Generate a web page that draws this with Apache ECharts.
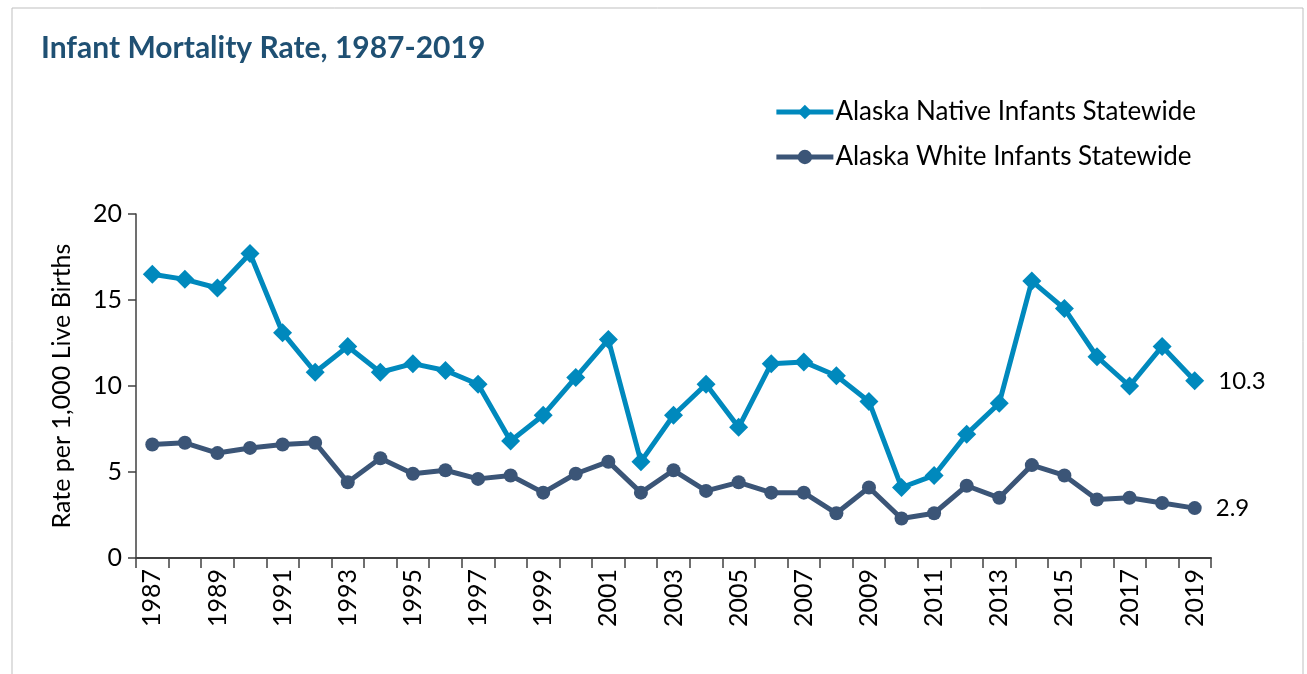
<!DOCTYPE html>
<html><head><meta charset="utf-8">
<script src="https://cdn.jsdelivr.net/npm/echarts@6/dist/echarts.min.js"></script>
<style>html,body{margin:0;padding:0;background:#fff}#c{width:1307px;height:674px}</style>
</head><body><div id="c"></div>
<script>
const years = [1987,1988,1989,1990,1991,1992,1993,1994,1995,1996,1997,1998,1999,2000,2001,2002,2003,2004,2005,2006,2007,2008,2009,2010,2011,2012,2013,2014,2015,2016,2017,2018,2019].map(String);
const nativeRates = [16.5,16.2,15.7,17.7,13.1,10.8,12.3,10.8,11.3,10.9,10.1,6.8,8.3,10.5,12.7,5.6,8.3,10.1,7.6,11.3,11.4,10.6,9.1,4.1,4.8,7.2,9.0,16.1,14.5,11.7,10.0,12.3,10.3];
const whiteRates = [6.6,6.7,6.1,6.4,6.6,6.7,4.4,5.8,4.9,5.1,4.6,4.8,3.8,4.9,5.6,3.8,5.1,3.9,4.4,3.8,3.8,2.6,4.1,2.3,2.6,4.2,3.5,5.4,4.8,3.4,3.5,3.2,2.9];
const yTicks = [0,5,10,15,20];
const seriesNames = ['Alaska Native Infants Statewide','Alaska White Infants Statewide'];
const titleText = 'Infant Mortality Rate, 1987-2019';
const yAxisName = 'Rate per 1,000 Live Births';
const FONT = 'Lato';

function lastLabel(arr){
  return arr.map((v,i)=> i===arr.length-1 ? {value:v,label:{show:true,position:'right',distance:14,formatter:String(v),fontSize:24,color:'#000',fontFamily:FONT}} : v);
}

const chart = echarts.init(document.getElementById('c'));
chart.setOption({
  animation:false,
  graphic:[{type:'rect',shape:{x:12,y:8,width:1291,height:700},style:{fill:'none',stroke:'#bfbfbf',lineWidth:1}}],
  title:{text:titleText,left:36,top:28,textStyle:{fontFamily:FONT,fontWeight:'bold',fontSize:30,color:'#1f5073'}},
  legend:{orient:'vertical',right:106,top:94,itemGap:19,itemWidth:57,itemHeight:18,
    lineStyle:{width:5},
    textStyle:{fontFamily:FONT,fontSize:26,color:'#000',padding:[0,0,0,-3]},
    data:seriesNames},
  grid:{left:136,right:96,top:214,bottom:116,containLabel:false},
  xAxis:{type:'category',data:years,boundaryGap:true,
    axisLine:{lineStyle:{color:'#404040',width:2}},
    axisTick:{show:true,alignWithLabel:false,interval:0,length:10,lineStyle:{color:'#404040',width:1.5}},
    axisLabel:{interval:1,rotate:90,fontFamily:FONT,fontSize:25,color:'#000',margin:11}},
  yAxis:{type:'value',min:0,max:20,interval:5,
    name:yAxisName,nameLocation:'middle',nameGap:62,nameRotate:90,
    nameTextStyle:{fontFamily:FONT,fontSize:25,color:'#000'},
    axisLine:{show:true,lineStyle:{color:'#404040',width:1.5}},
    axisTick:{show:true,length:8,lineStyle:{color:'#404040',width:1.5}},
    axisLabel:{fontFamily:FONT,fontSize:25,color:'#000',margin:14},
    splitLine:{show:false}},
  series:[
    {name:seriesNames[0],type:'line',data:lastLabel(nativeRates),symbol:'diamond',symbolSize:19,
     lineStyle:{color:'#0089bd',width:5},itemStyle:{color:'#0089bd'}},
    {name:seriesNames[1],type:'line',data:lastLabel(whiteRates),symbol:'circle',symbolSize:14,
     lineStyle:{color:'#3b5577',width:5},itemStyle:{color:'#3b5577'}}
  ]
});
</script></body></html>
